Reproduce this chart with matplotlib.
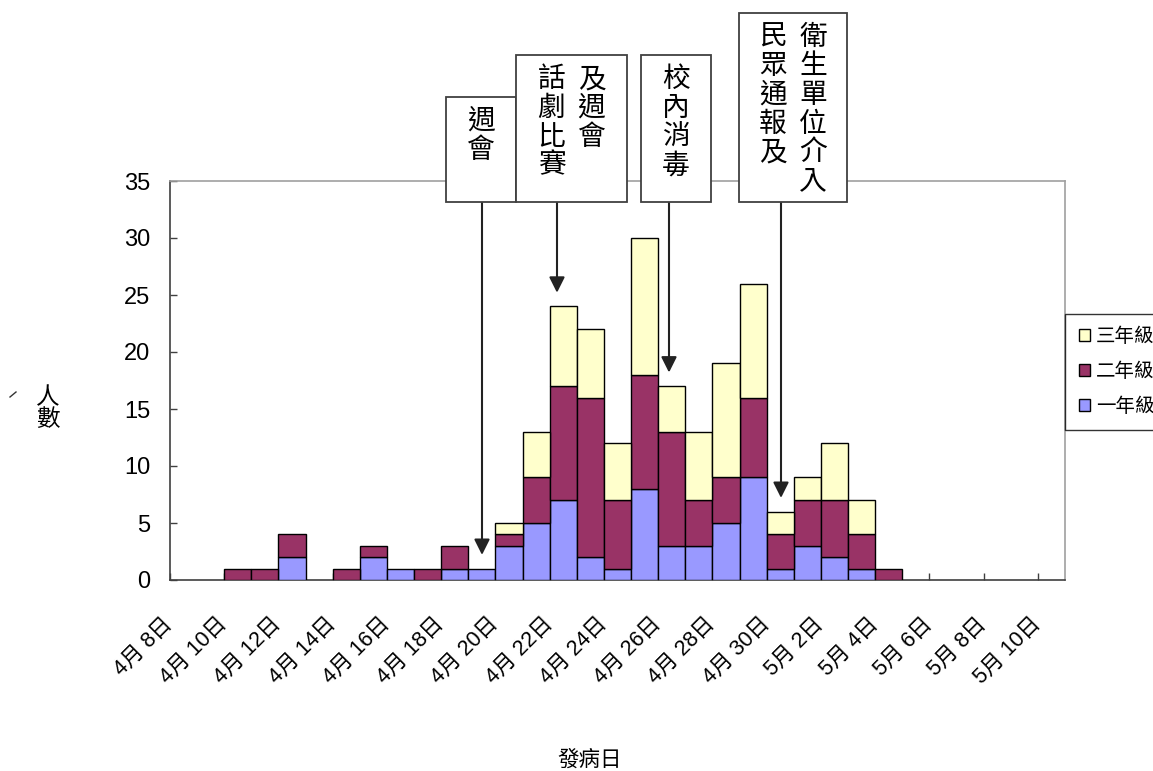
import numpy as np
import matplotlib.pyplot as plt
from matplotlib.patches import Rectangle
from matplotlib.lines import Line2D
from matplotlib.transforms import ScaledTranslation

plt.rcParams['font.family'] = ['Liberation Sans', 'Noto Sans CJK TC']

W, H = 1153, 771

# 1. Data: onset day counts, 4/8 .. 5/10 (one entry per day)

grade1 = [0, 0, 0, 0, 2, 0, 0, 2, 1, 0, 1, 1, 3, 5, 7, 2, 1, 8, 3, 3, 5, 9, 1,
          3, 2, 1, 0, 0, 0, 0, 0, 0, 0]
grade2 = [0, 0, 1, 1, 2, 0, 1, 1, 0, 1, 2, 0, 1, 4, 10, 14, 6, 10, 10, 4, 4, 7, 3,
          4, 5, 3, 1, 0, 0, 0, 0, 0, 0]
grade3 = [0, 0, 0, 0, 0, 0, 0, 0, 0, 0, 0, 0, 1, 4, 7, 6, 5, 12, 4, 6, 10, 10, 2,
          2, 5, 3, 0, 0, 0, 0, 0, 0, 0]

series_names = ["一年級", "二年級", "三年級"]
series_colors = ["#9999FF", "#993366", "#FFFFCC"]

tick_labels = ["4月 8日", "4月 10日", "4月 12日", "4月 14日", "4月 16日",
               "4月 18日", "4月 20日", "4月 22日", "4月 24日", "4月 26日",
               "4月 28日", "4月 30日", "5月 2日", "5月 4日", "5月 6日",
               "5月 8日", "5月 10日"]

# events: text columns (left to right) and the day index the arrow points at
event_columns = [["週會"], ["話劇比賽", "及週會"], ["校內消毒"],
                 ["民眾通報及", "衛生單位介入"]]
event_days = [11, 14, 18, 22]

# 2. Figure

fig = plt.figure(figsize=(W / 100, H / 100), dpi=100)
ax = fig.add_axes([170 / W, 1 - 580 / H, 895 / W, 399 / H])

n_days = len(grade1)
x = np.arange(n_days)
bottom = np.zeros(n_days)
for vals, name, color in zip([grade1, grade2, grade3], series_names, series_colors):
    vals = np.array(vals, dtype=float)
    m = vals > 0
    ax.bar(x[m], vals[m], width=1, bottom=bottom[m], align='edge', color=color,
           edgecolor='black', linewidth=1, label=name, zorder=3)
    bottom += vals
totals = bottom

ax.set_xlim(0, n_days)
ax.set_ylim(0, 35)
ax.set_yticks(np.arange(0, 36, 5))
ax.set_xticks(np.arange(0, n_days, 2))
ax.set_xticklabels(tick_labels, rotation=45, ha='right', va='top', fontsize=15.5)
ax.tick_params(axis='y', direction='in', length=5, width=1, pad=14, labelsize=17,
               color='#404040')
ax.tick_params(axis='x', direction='in', length=5, width=1, pad=24, color='#404040')
shift = ScaledTranslation(7 / 100, 0, fig.dpi_scale_trans)
for lab in ax.get_xticklabels():
    lab.set_transform(lab.get_transform() + shift)

for s in ['left', 'bottom']:
    ax.spines[s].set_color('#404040')
    ax.spines[s].set_linewidth(1.2)
for s in ['top', 'right']:
    ax.spines[s].set_color('#A0A0A0')
    ax.spines[s].set_linewidth(1.2)

# legend (runs off the right edge like the original)
h, l = ax.get_legend_handles_labels()
leg = ax.legend(h[::-1], l[::-1], loc='upper left', bbox_to_anchor=(1.0, (580 - 314) / 399),
                borderaxespad=0, fontsize=14, frameon=True, fancybox=False,
                edgecolor='black', handlelength=0.6, handleheight=0.6,
                handletextpad=0.3, labelspacing=0.85, borderpad=0.7)
leg.get_frame().set_linewidth(1)

# axis labels
fig.text(48 / W, 1 - 409 / H, "人\n數", ha='center', va='center', fontsize=17,
         linespacing=0.95)
fig.add_artist(Line2D([10 / W, 16 / W], [1 - 397 / H, 1 - 392 / H], color='#333333', lw=1))
fig.text(590 / W, 1 - 760 / H, "發病日", ha='center', va='center', fontsize=15.5)


# 3. Event boxes and arrows

def to_data(px, py):
    return ax.transData.inverted().transform((px, H - py))


box_px = [(446, 516, 97), (516, 627, 55), (641, 711, 55), (739, 847, 13)]
arrow_px = [482, 557, 669, 781]
box_bottom = 202
for cols, day, (x0, x1, top), ax_px in zip(event_columns, event_days, box_px, arrow_px):
    (dx0, dy0) = to_data(x0, box_bottom)
    (dx1, dy1) = to_data(x1, top)
    ax.add_patch(Rectangle((dx0, dy0), dx1 - dx0, dy1 - dy0, facecolor='white',
                           edgecolor='#404040', linewidth=1.3, clip_on=False, zorder=6))
    ncol = len(cols)
    width = x1 - x0
    for i, col in enumerate(cols):
        cx = x0 + width / 2 + (i - (ncol - 1) / 2) * 40
        tx, ty = to_data(cx, top + 9)
        ax.text(tx, ty, "\n".join(col), ha='center', va='top', fontsize=20,
                family='Noto Sans CJK TC', linespacing=0.95, zorder=7, clip_on=False)
    arrow_x = to_data(ax_px, 0)[0]
    ax.annotate("", xy=(arrow_x, totals[day] + 1.2), xytext=(arrow_x, dy0),
                arrowprops=dict(arrowstyle='-|>,head_length=0.47,head_width=0.235',
                                mutation_scale=20, color='#222222', lw=1.5,
                                shrinkA=0, shrinkB=0),
                annotation_clip=False, zorder=5)

fig.savefig("out.png", dpi=100)
